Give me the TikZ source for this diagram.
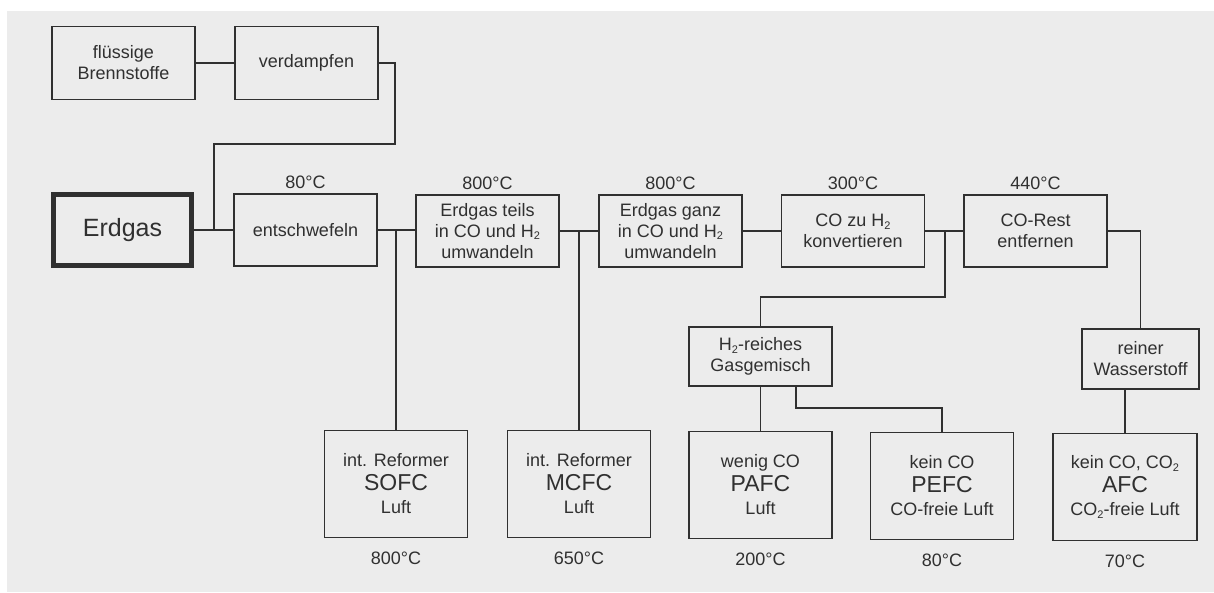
\documentclass[tikz,border=0pt]{standalone}
\usepackage{fontspec}
\setmainfont{Liberation Sans}
\definecolor{ink}{HTML}{303030}
\definecolor{paper}{HTML}{ECECEC}
\newcommand{\sbs}[1]{\raisebox{-2.5pt}{\fontsize{11}{11}\selectfont #1}}
\newcommand{\fcname}[1]{{\fontsize{23}{23}\selectfont #1}}
\tikzset{
  box/.style={draw=ink, line width=1.4pt, minimum width=143pt, inner sep=0pt,
    align=center, text=ink, font=\fontsize{18}{21}\selectfont},
  chainbox/.style={box, minimum height=72pt},
  cellbox/.style={box, minimum height=107pt, font=\fontsize{18}{23.5}\selectfont},
  conn/.style={draw=ink, line width=1.4pt},
  mainline/.style={draw=ink, line width=2.8pt},
  temp/.style={text=ink, font=\fontsize{18}{21}\selectfont, inner sep=0pt},
}
\begin{document}
\begin{tikzpicture}[x=1pt,y=-1pt]
\useasboundingbox (0,0) rectangle (1214,592);
\fill[white] (0,0) rectangle (1214,592);
\fill[paper] (7,11) rectangle (1214,592);

% top row
\node[box, minimum height=73pt] (fl) at (123.5,63) {flüssige\\Brennstoffe};
\node[box, minimum height=73pt] (verd) at (306.5,63) {verdampfen};

% main chain
\node[box, line width=5pt, minimum width=138pt, minimum height=71pt,
      font=\fontsize{25}{30}\selectfont] (erd) at (122.5,230) {Erdgas};
\node[chainbox] (ents) at (305.5,230) {entschwefeln};
\node[chainbox] (teils) at (487.5,231) {Erdgas teils\\in CO und H\sbs{2}\\umwandeln};
\node[chainbox] (ganz) at (670.5,231) {Erdgas ganz\\in CO und H\sbs{2}\\umwandeln};
\node[chainbox] (coh2) at (853,231) {CO zu H\sbs{2}\\konvertieren};
\node[chainbox] (corest) at (1035.5,231) {CO-Rest\\entfernen};

% intermediate
\node[box, minimum height=59pt] (h2r) at (760.5,356.5) {H\sbs{2}-reiches\\Gasgemisch};
\node[box, minimum width=117pt, minimum height=60pt] (rein) at (1140.5,359) {reiner\\Wasserstoff};

% fuel cells
\node[cellbox] (sofc) at (396,484) {int. Reformer\\\fcname{SOFC}\\Luft};
\node[cellbox] (mcfc) at (579,484) {int. Reformer\\\fcname{MCFC}\\Luft};
\node[cellbox] (pafc) at (760.5,485) {wenig CO\\\fcname{PAFC}\\Luft};
\node[cellbox] (pefc) at (942,486) {kein CO\\\fcname{PEFC}\\CO-freie Luft};
\node[cellbox, minimum width=144pt] (afc) at (1125,487) {kein CO, CO\sbs{2}\\\fcname{AFC}\\CO\sbs{2}-freie Luft};

% temperatures
\node[temp, anchor=south] (t1) at ([yshift=4pt]ents.north) {80°C};
\node[temp, anchor=south] (t2) at ([yshift=4pt]teils.north) {800°C};
\node[temp, anchor=south] (t3) at ([yshift=4pt]ganz.north) {800°C};
\node[temp, anchor=south] (t4) at ([yshift=4pt]coh2.north) {300°C};
\node[temp, anchor=south] (t5) at ([yshift=4pt]corest.north) {440°C};
\node[temp, anchor=north] (b1) at ([yshift=-14pt]sofc.south) {800°C};
\node[temp, anchor=north] (b2) at ([yshift=-14pt]mcfc.south) {650°C};
\node[temp, anchor=north] (b3) at ([yshift=-14pt]pafc.south) {200°C};
\node[temp, anchor=north] (b4) at ([yshift=-14pt]pefc.south) {80°C};
\node[temp, anchor=north] (b5) at ([yshift=-14pt]afc.south) {70°C};

% junction coordinates
\coordinate (v1) at (395,144);
\coordinate (j0) at (214,230);
\coordinate (j1) at (396,230);
\coordinate (j2) at (579,231);
\coordinate (j3) at (945,231);
\coordinate (k3) at (945,297);
\coordinate (k4) at (796,408);

% connectors
\draw[conn] (fl) -- (verd);
\draw[conn] (verd.east) -| (v1) -| (j0);
\draw[mainline] (erd) -- (ents);
\draw[mainline] (ents) -- (teils.west |- ents.east);
\draw[mainline] (teils) -- (ganz);
\draw[mainline] (ganz) -- (coh2);
\draw[mainline] (coh2) -- (corest);
\draw[conn] (j1) -- (sofc.north);
\draw[conn] (j2) -- (mcfc.north);
\draw[conn] (j3) -- (k3) -| (h2r.north);
\draw[conn] (corest.east) -| (rein.north);
\draw[conn] (h2r.south) -- (pafc.north);
\draw[conn] (k4 |- h2r.south) -- (k4) -| (pefc.north);
\draw[conn] (rein.south -| afc.north) -- (afc.north);
\end{tikzpicture}
\end{document}
